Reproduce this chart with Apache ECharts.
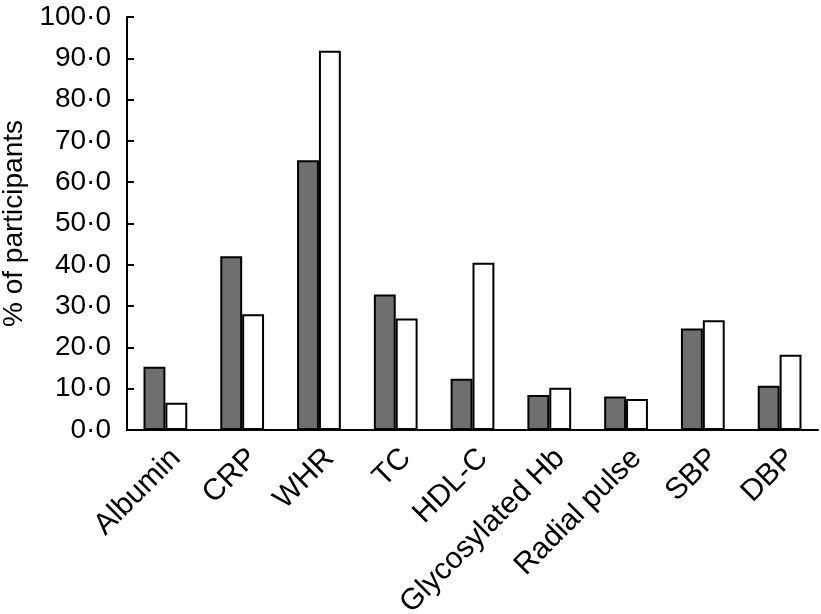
<!DOCTYPE html>
<html>
<head>
<meta charset="utf-8">
<script src="https://cdn.jsdelivr.net/npm/echarts@6/dist/echarts.min.js"></script>
<style>html,body{margin:0;padding:0;background:#fff}#c{width:821px;height:614px}</style>
</head>
<body>
<div id="c"></div>
<script>
const categories = ['Albumin', 'CRP', 'WHR', 'TC', 'HDL-C', 'Glycosylated Hb', 'Radial pulse', 'SBP', 'DBP'];
const seriesDark = [15.3, 42.1, 65.3, 32.8, 12.4, 8.5, 8.1, 24.6, 10.7];
const seriesWhite = [6.6, 28.0, 91.8, 27.0, 40.5, 10.2, 7.5, 26.6, 18.2];
const yAxisTitle = '% of participants';

const font = 'Liberation Sans, Arial, sans-serif';
const chart = echarts.init(document.getElementById('c'), null, {renderer: 'canvas'});
chart.setOption({
  animation: false,
  backgroundColor: '#fff',
  grid: {left: 127, right: 3, top: 17, bottom: 184, containLabel: false, outerBoundsMode: 'none'},
  xAxis: {
    type: 'category',
    data: categories,
    axisLine: {lineStyle: {color: '#000', width: 2}},
    axisTick: {inside: true, length: 8, lineStyle: {color: '#000', width: 2}},
    axisLabel: {rotate: 45, color: '#000', fontFamily: font, fontSize: 30, margin: 13, interval: 0,
      align: 'right', verticalAlign: 'top'}
  },
  yAxis: {
    type: 'value',
    min: 0, max: 100, interval: 10,
    name: yAxisTitle,
    nameLocation: 'middle',
    nameGap: 95,
    nameTextStyle: {color: '#000', fontFamily: font, fontSize: 28},
    axisLine: {show: true, lineStyle: {color: '#000', width: 2}},
    axisTick: {show: true, inside: true, length: 7, lineStyle: {color: '#000', width: 2}},
    splitLine: {show: false},
    axisLabel: {color: '#000', fontFamily: font, fontSize: 28, margin: 16,
      formatter: v => v.toFixed(1).replace('.', '·')}
  },
  series: [
    {type: 'bar', data: seriesDark, barGap: '0%', barCategoryGap: '43%',
     itemStyle: {color: '#6f6f6f', borderColor: '#000', borderWidth: 2}},
    {type: 'bar', data: seriesWhite, barGap: '0%', barCategoryGap: '43%',
     itemStyle: {color: '#fff', borderColor: '#000', borderWidth: 2}}
  ]
});
</script>
</body>
</html>
